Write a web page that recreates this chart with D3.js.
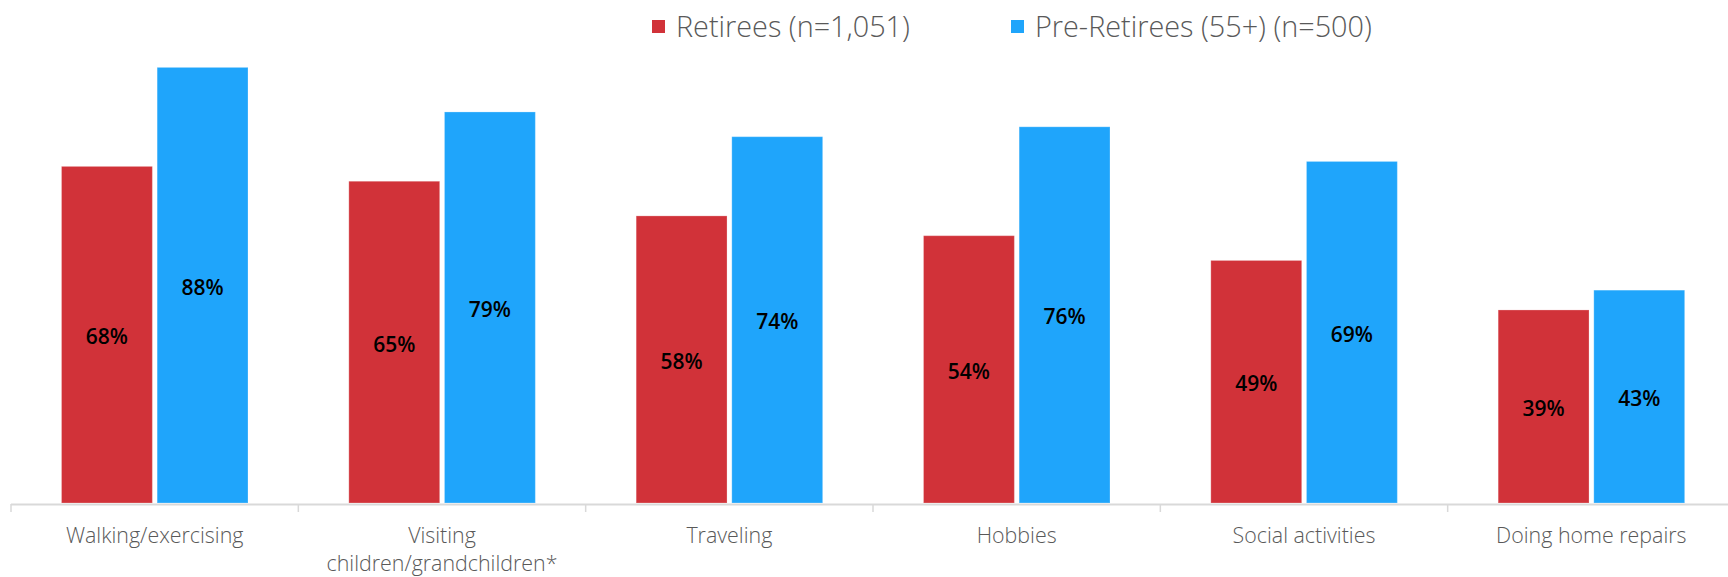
<!DOCTYPE html>
<html>
<head>
<meta charset="utf-8">
<script src="https://cdn.jsdelivr.net/npm/d3@7"></script>
<style>
  html, body { margin: 0; padding: 0; background: #fff; }
  svg { display: block; font-family: "Open Sans", "Noto Sans", sans-serif; }
</style>
</head>
<body>
<div id="chart"></div>
<script>
// activities chart (retirees vs pre-retirees)

const categories = [
  "Walking/exercising",
  "Visiting children/grandchildren*",
  "Traveling",
  "Hobbies",
  "Social activities",
  "Doing home repairs"
];
// label lines for the x axis
const categoryLines = [
  ["Walking/exercising"],
  ["Visiting", "children/grandchildren*"],
  ["Traveling"],
  ["Hobbies"],
  ["Social activities"],
  ["Doing home repairs"]
];
const seriesNames = ["Retirees (n=1,051)", "Pre-Retirees (55+) (n=500)"];
const retirees = [68, 65, 58, 54, 49, 39];
const preRetirees = [88, 79, 74, 76, 69, 43];
const seriesColors = ["#D13239", "#1FA5FB"];

function drawChart(selector) {
  const W = 1728, H = 577;
  const container = d3.select(selector);
  container.selectAll("*").remove();

  const svg = container.append("svg").attr("width", W).attr("height", H);

  const baseY = 503;
  const x0 = d3.scaleBand().domain(categories).range([11, 1735]).paddingInner(0).paddingOuter(0);
  const x1 = d3.scaleBand().domain(seriesNames).range([50.5, 237]).paddingInner(0.05);
  const y = d3.scaleLinear().domain([0, 100]).range([baseY, baseY - 495]);

  const rows = categories.map((c, i) => ({ cat: c, values: [retirees[i], preRetirees[i]] }));

  // bars
  const groups = svg.append("g").selectAll("g").data(rows).enter().append("g")
    .attr("transform", d => `translate(${x0(d.cat)},0)`);

  groups.selectAll("rect")
    .data(d => d.values.map((v, si) => ({ s: seriesNames[si], v, si })))
    .enter().append("rect")
    .attr("x", d => x1(d.s))
    .attr("y", d => y(d.v))
    .attr("width", x1.bandwidth())
    .attr("height", d => y(0) - y(d.v))
    .attr("fill", d => seriesColors[d.si])
    .attr("stroke", "rgba(255,255,255,0.25)")
    .attr("stroke-width", 1);

  groups.selectAll("text.val")
    .data(d => d.values.map((v, si) => ({ s: seriesNames[si], v, si })))
    .enter().append("text")
    .attr("class", "val")
    .attr("x", d => x1(d.s) + x1.bandwidth() / 2)
    .attr("y", d => (y(d.v) + y(0)) / 2 + 1.5)
    .attr("text-anchor", "middle")
    .attr("dominant-baseline", "central")
    .attr("font-size", "21px")
    .attr("font-weight", 600)
    .attr("fill", "#000")
    .text(d => d.v + "%");

  // x axis line + boundary ticks
  const axis = svg.append("g");
  axis.append("line")
    .attr("x1", 11).attr("x2", W).attr("y1", baseY + 1.5).attr("y2", baseY + 1.5)
    .attr("stroke", "#d9d9d9").attr("stroke-width", 2);
  const bounds = categories.map(c => x0(c)).concat([x0.range()[1]]);
  axis.selectAll("line.tick").data(bounds).enter().append("line")
    .attr("class", "tick")
    .attr("x1", d => d).attr("x2", d => d)
    .attr("y1", baseY + 1).attr("y2", baseY + 9)
    .attr("stroke", "#d9d9d9").attr("stroke-width", 1.5);

  // category labels
  const labels = svg.append("g").selectAll("text").data(categories).enter().append("text")
    .attr("x", d => x0(d) + x0.bandwidth() / 2)
    .attr("y", 543)
    .attr("text-anchor", "middle")
    .attr("font-size", "21.4px")
    .attr("font-weight", 300)
    .attr("fill", "#595959");
  labels.each(function(d, i) {
    const t = d3.select(this);
    categoryLines[i].forEach((ln, li) => {
      t.append("tspan")
        .attr("x", x0(d) + x0.bandwidth() / 2)
        .attr("dy", li === 0 ? 0 : 28)
        .text(ln);
    });
  });

  // legend
  const legendX = [652, 1011];
  const legend = svg.append("g");
  seriesNames.forEach((name, i) => {
    legend.append("rect")
      .attr("x", legendX[i]).attr("y", 20)
      .attr("width", 13).attr("height", 13)
      .attr("fill", seriesColors[i]);
    legend.append("text")
      .attr("x", legendX[i] + 24).attr("y", 36.5)
      .attr("font-size", "28.8px")
      .attr("font-weight", 300)
      .attr("fill", "#595959")
      .text(name);
  });
}

drawChart("#chart");
</script>
</body>
</html>
